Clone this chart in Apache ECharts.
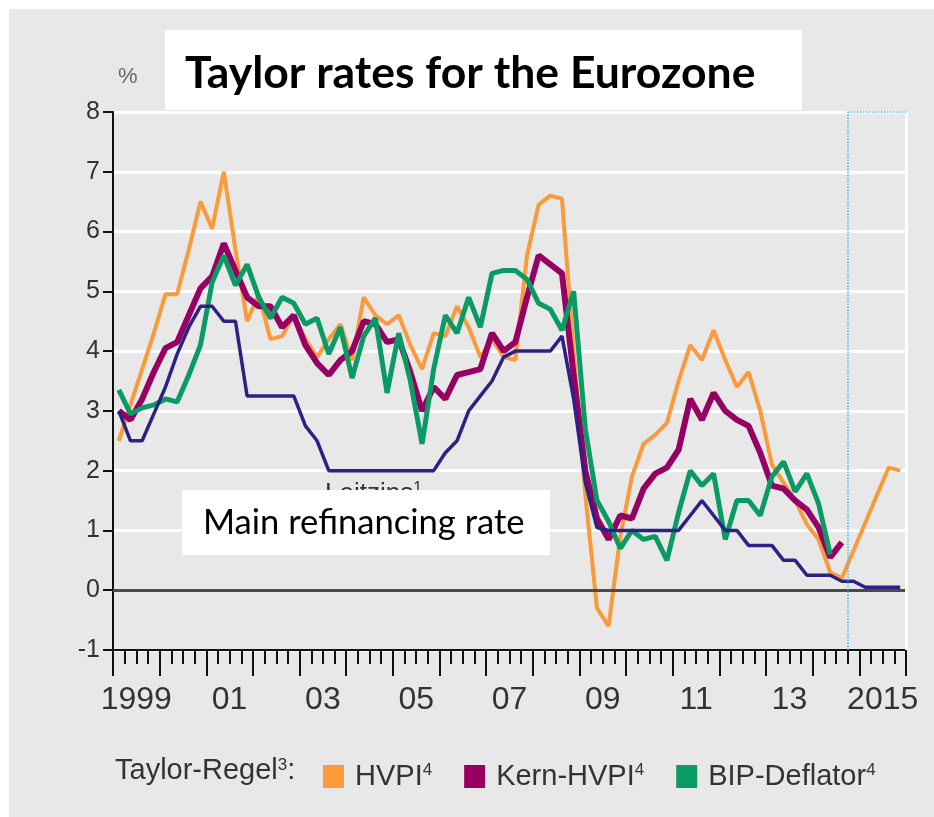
<!DOCTYPE html>
<html><head><meta charset="utf-8">
<script src="https://cdn.jsdelivr.net/npm/echarts@6/dist/echarts.min.js"></script>
<style>html,body{margin:0;padding:0;background:#fff}#c{width:934px;height:817px}</style>
</head><body><div id="c"></div>
<script>
// quarterly observation times (decimal years, mid-quarter)
const quarterTimes = [
 1999.125,1999.375,1999.625,1999.875,
 2000.125,2000.375,2000.625,2000.875,
 2001.125,2001.375,2001.625,2001.875,
 2002.125,2002.375,2002.625,2002.875,
 2003.125,2003.375,2003.625,2003.875,
 2004.125,2004.375,2004.625,2004.875,
 2005.125,2005.375,2005.625,2005.875,
 2006.125,2006.375,2006.625,2006.875,
 2007.125,2007.375,2007.625,2007.875,
 2008.125,2008.375,2008.625,2008.875,
 2009.125,2009.375,2009.625,2009.875,
 2010.125,2010.375,2010.625,2010.875,
 2011.125,2011.375,2011.625,2011.875,
 2012.125,2012.375,2012.625,2012.875,
 2013.125,2013.375,2013.625,2013.875,
 2014.125,2014.375,2014.625,2014.875,
 2015.125,2015.375,2015.625,2015.875
];
// Taylor rule, HVPI
const hvpi = [
 2.5,3.1,3.7,4.3,
 4.95,4.95,5.7,6.5,
 6.05,7.0,5.7,4.5,
 4.95,4.2,4.25,4.6,
 4.2,3.9,4.2,4.45,
 3.85,4.9,4.6,4.45,
 4.6,4.1,3.7,4.3,
 4.25,4.75,4.4,3.9,
 4.2,3.9,3.85,5.6,
 6.45,6.6,6.55,4.0,
 1.6,-0.3,-0.6,0.9,
 1.9,2.45,2.6,2.8,
 3.5,4.1,3.85,4.35,
 3.85,3.4,3.65,3.0,
 2.1,1.8,1.5,1.1,
 0.85,0.3,0.2,null,
 null,null,2.05,2.0
];
// Taylor rule, core HVPI
const kernHvpi = [
 3.0,2.85,3.2,3.65,
 4.05,4.15,4.6,5.05,
 5.25,5.8,5.35,4.9,
 4.75,4.75,4.4,4.6,
 4.1,3.8,3.6,3.85,
 4.0,4.5,4.45,4.15,
 4.2,3.65,3.0,3.4,
 3.2,3.6,3.65,3.7,
 4.3,4.0,4.15,4.9,
 5.6,5.45,5.3,3.6,
 2.0,1.2,0.85,1.25,
 1.2,1.7,1.95,2.05,
 2.35,3.2,2.85,3.3,
 3.0,2.85,2.75,2.3,
 1.75,1.7,1.5,1.35,
 1.05,0.55,0.8,null,
 null,null,null,null
];
// Taylor rule, GDP deflator
const bipDeflator = [
 3.35,2.95,3.05,3.1,
 3.2,3.15,3.6,4.1,
 5.15,5.6,5.1,5.45,
 4.9,4.55,4.9,4.8,
 4.45,4.55,3.95,4.4,
 3.55,4.25,4.55,3.3,
 4.3,3.5,2.45,3.7,
 4.6,4.3,4.9,4.4,
 5.3,5.35,5.35,5.2,
 4.8,4.7,4.35,5.0,
 2.7,1.5,1.15,0.7,
 1.0,0.85,0.9,0.5,
 1.3,2.0,1.75,1.95,
 0.85,1.5,1.5,1.25,
 1.9,2.15,1.65,1.95,
 1.45,0.6,null,null,
 null,null,null,null
];
// Main refinancing rate (Leitzins)
const leitzins = [
 3.0,2.5,2.5,2.95,
 3.4,3.95,4.4,4.75,
 4.75,4.5,4.5,3.25,
 3.25,3.25,3.25,3.25,
 2.75,2.5,2.0,2.0,
 2.0,2.0,2.0,2.0,
 2.0,2.0,2.0,2.0,
 2.3,2.5,3.0,3.25,
 3.5,3.9,4.0,4.0,
 4.0,4.0,4.25,3.2,
 1.8,1.05,1.0,1.0,
 1.0,1.0,1.0,1.0,
 1.0,1.25,1.5,1.25,
 1.0,1.0,0.75,0.75,
 0.75,0.5,0.5,0.25,
 0.25,0.25,0.15,0.15,
 0.05,0.05,0.05,0.05
];
const yTicks = [-1,0,1,2,3,4,5,6,7,8];
const yearLabels = {1999:'1999',2001:'01',2003:'03',2005:'05',2007:'07',2009:'09',2011:'11',2013:'13',2015:'2015'};
const forecastStart = 2014.75;

const pairs = vals => quarterTimes.map((t,i)=>[t, vals[i]]);
const AX = '#111', TXT = '#333';
const FONT = 'Liberation Sans';

const chart = echarts.init(document.getElementById('c'), null, {renderer:'canvas'});
chart.setOption({
  animation:false,
  backgroundColor:'#e8e8e8',
  textStyle:{fontFamily:FONT},
  grid:{left:113, right:28, top:112, bottom:167, containLabel:false},
  xAxis:[{
    type:'value', min:1999, max:2016, interval:1, position:'bottom',
    axisLine:{onZero:false, lineStyle:{color:AX, width:2}},
    axisTick:{show:true, length:26, lineStyle:{color:AX, width:2}},
    minorTick:{show:true, splitNumber:4, length:14, lineStyle:{color:AX, width:2}},
    axisLabel:{show:false}, splitLine:{show:false}
  },{
    type:'value', min:1998.5, max:2015.5, interval:0.5, position:'bottom',
    axisLine:{show:false, onZero:false}, axisTick:{show:false}, splitLine:{show:false},
    axisLabel:{fontSize:32, color:TXT, fontFamily:FONT, margin:34,
      formatter:v => yearLabels[v] || ''}
  }],
  yAxis:{
    type:'value', min:yTicks[0], max:yTicks[yTicks.length-1], interval:1,
    axisLine:{show:true, lineStyle:{color:AX, width:2}},
    axisTick:{show:true, length:10, lineStyle:{color:AX, width:2}},
    axisLabel:{fontSize:25, color:TXT, fontFamily:FONT, margin:13},
    splitLine:{show:true, lineStyle:{color:'#ffffff', width:3}}
  },
  legend:{
    left:318, top:757, itemWidth:21, itemHeight:23, itemGap:32, icon:'rect',
    selectedMode:false,
    data:['HVPI','Kern-HVPI','BIP-Deflator'],
    itemStyle:{borderWidth:0},
    formatter:name => '{n|'+name+'}{s|4}',
    textStyle:{fontSize:29, color:TXT, fontFamily:FONT,
      rich:{n:{fontSize:29, color:TXT, fontFamily:FONT, padding:[0,0,0,6]}, s:{fontSize:17, color:TXT, fontFamily:FONT, verticalAlign:'top'}}}
  },
  series:[
    {name:'HVPI', type:'line', data:pairs(hvpi), connectNulls:true, symbol:'none',
     lineStyle:{color:'#fa9a3a', width:4}, itemStyle:{color:'#fa9a3a'},
     markLine:{silent:true, symbol:'none', label:{show:false}, animation:false,
       data:[{yAxis:0, lineStyle:{color:'#4a4a4a', width:3, type:'solid'}}]}},
    {name:'Kern-HVPI', type:'line', data:pairs(kernHvpi), symbol:'none',
     lineStyle:{color:'#960062', width:6}, itemStyle:{color:'#960062'}},
    {name:'BIP-Deflator', type:'line', data:pairs(bipDeflator), symbol:'none',
     lineStyle:{color:'#0a9a64', width:5}, itemStyle:{color:'#0a9a64'}},
    {name:'Leitzins', type:'line', data:pairs(leitzins), symbol:'none',
     lineStyle:{color:'#2e2185', width:3.5}, itemStyle:{color:'#2e2185'},
     markLine:{silent:true, symbol:'none', label:{show:false}, animation:false,
       data:[
         [{coord:[2016,-1], lineStyle:{color:'#ffffff', width:3, type:'solid'}},{coord:[2016,8]}],
         [{coord:[forecastStart,-1], lineStyle:{color:'#3fb4ea', width:1.5, type:'dotted'}},{coord:[forecastStart,8]}],
         [{coord:[forecastStart,8], lineStyle:{color:'#3fb4ea', width:1.5, type:'dotted'}},{coord:[2016,8]}]
       ]}}
  ],
  graphic:[
    {type:'rect', shape:{x:0,y:0,width:934,height:9}, style:{fill:'#fff'}, silent:true},
    {type:'rect', shape:{x:0,y:0,width:9,height:817}, style:{fill:'#fff'}, silent:true},
    {type:'rect', shape:{x:165,y:30,width:637,height:80}, style:{fill:'#fff'}, silent:true, z:10},
    {type:'text', style:{x:185, y:74, text:'Taylor rates for the Eurozone', font:'bold 44.5px Lato', fill:'#000', verticalAlign:'middle'}, silent:true, z:11},
    {type:'text', style:{x:118, y:77, text:'%', font:'22px "Liberation Sans"', fill:'#666', verticalAlign:'middle'}, silent:true},
    {type:'text', style:{x:325, y:494, text:'{n|Leitzins}{s|1}', fill:TXT, verticalAlign:'middle',
      rich:{n:{fontSize:26, fontFamily:FONT, fill:TXT}, s:{fontSize:16, fontFamily:FONT, fill:TXT, verticalAlign:'top'}}}, silent:true, z:10},
    {type:'rect', shape:{x:182,y:490,width:368,height:65}, style:{fill:'#fff'}, silent:true, z:12},
    {type:'text', style:{x:203, y:523, text:'Main refinancing rate', font:'34.6px Lato', fill:'#000', verticalAlign:'middle'}, silent:true, z:13},
    {type:'text', style:{x:115, y:771, text:'{n|Taylor-Regel}{s|3}{n|:}', fill:TXT, verticalAlign:'middle',
      rich:{n:{fontSize:29, fontFamily:FONT, fill:TXT}, s:{fontSize:17, fontFamily:FONT, fill:TXT, verticalAlign:'top'}}}, silent:true}
  ]
});
</script></body></html>
